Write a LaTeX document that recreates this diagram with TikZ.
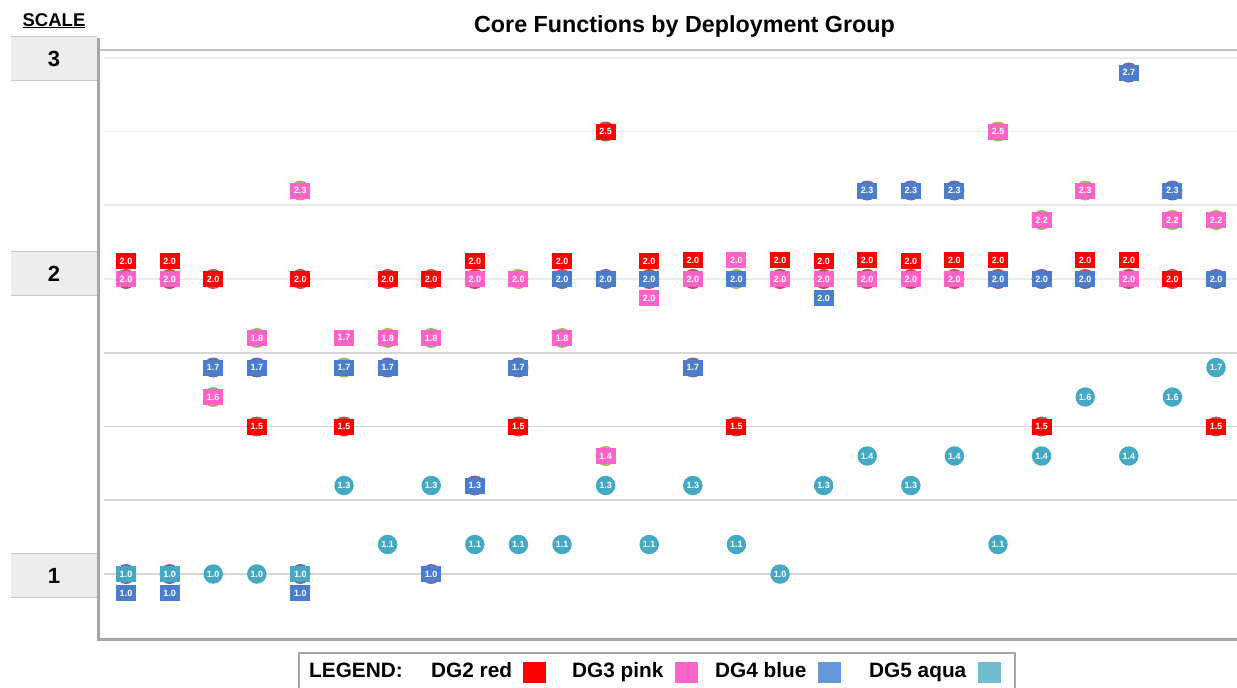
\documentclass[tikz,border=0pt]{standalone}
\usepackage{fontspec}
\setmainfont{Liberation Sans}
\definecolor{dgred}{HTML}{FF0000}
\definecolor{dgpink}{HTML}{FF63C8}
\definecolor{dgblue}{HTML}{4A7ECC}
\definecolor{dgaqua}{HTML}{46A9C3}
\definecolor{lgblue}{HTML}{6596D8}
\definecolor{lgaqua}{HTML}{70BDD0}
\definecolor{bkred}{HTML}{C0504D}
\definecolor{bkgreen}{HTML}{9BBB59}
\definecolor{bkpurple}{HTML}{8064A2}
\definecolor{gridlight}{HTML}{EBEBEB}
\definecolor{griddark}{HTML}{D6D6D6}
\definecolor{axisgray}{HTML}{A6A6A6}
\definecolor{boxfill}{HTML}{EDEDED}
\newcommand{\fsz}[1]{\fontsize{#1}{#1}\selectfont}
\begin{document}
\begin{tikzpicture}[x=1pt,y=-1pt,
  lbl/.style={inner sep=0pt, text=white, font=\bfseries\fsz{9}},
  sq/.style={lbl, rectangle, minimum width=20pt, minimum height=16pt},
  mk rd/.style={sq, fill=dgred},
  mk pk/.style={sq, fill=dgpink},
  mk bl/.style={sq, fill=dgblue},
  mk aqs/.style={sq, fill=dgaqua},
  mk aq/.style={lbl, circle, minimum size=19.5pt, fill=dgaqua},
  backdot/.style={circle, inner sep=0pt, minimum size=20pt},
  grid line/.style={draw=#1, line width=1.6pt},
  scalebox/.style={rectangle, fill=boxfill, minimum width=86pt, minimum height=43pt,
    inner sep=0pt, font=\bfseries\fsz{22}},
  boxedge/.style={draw=black!22, line width=0.8pt},
  legtext/.style={anchor=base west, inner sep=0pt, font=\bfseries\fsz{20.8}},
  legsq/.style={rectangle, inner sep=0pt, minimum width=23pt, minimum height=21pt}]
\useasboundingbox (0,0) rectangle (1237,688);

% headings
\node[anchor=base, inner sep=0pt, font=\bfseries\fsz{23.3}] (title) at (684.5,32)
  {Core Functions by Deployment Group};
\node[anchor=base, inner sep=0pt, font=\bfseries\fsz{18.5}] (scale) at (54,26)
  {\underline{SCALE}};

% horizontal grid, every quarter step (lighter above 2, darker below)
\foreach \g/\gc in {2.75/gridlight,2.5/gridlight,2.25/gridlight,2.0/gridlight,
                    1.75/griddark,1.5/griddark,1.25/griddark,1.0/griddark}
  \draw[grid line=\gc] (104,{279+(2-\g)*295}) -- (1237,{279+(2-\g)*295});

% plot frame
\draw[draw=black!25, line width=1.2pt] (100,50) -- (1237,50);
\draw[draw=axisgray, line width=3pt] (97,639.5) -- (1237,639.5);

% scale boxes
\foreach \n/\cy in {3/58.5,2/273.5,1/575.5}{
  \node[scalebox] (s\n) at (54,\cy) {\n};
  \draw[boxedge] (s\n.north west) -- (s\n.north east);
  \draw[boxedge] (s\n.south west) -- (s\n.south east);
}
\draw[draw=axisgray, line width=3pt] (98,38) -- (98,641);

% circles behind the value labels
\foreach \c/\v/\b [count=\i] in {
  1/2.0/bkred, 2/2.0/bkred, 3/2.0/bkred, 5/2.0/bkred, 7/2.0/bkred, 8/2.0/bkred,
  9/2.0/bkred, 10/2.0/bkgreen, 11/2.0/bkred, 12/2.0/bkpurple, 13/2.0/bkred,
  14/2.0/bkred, 15/2.0/bkgreen, 16/2.0/bkred, 17/2.0/bkred, 18/2.0/bkred,
  19/2.0/bkred, 20/2.0/bkred, 21/2.0/bkred, 22/2.0/bkpurple, 23/2.0/bkred,
  24/2.0/bkred, 25/2.0/bkred, 26/2.0/bkpurple,
  1/1.0/bkpurple, 2/1.0/bkpurple, 5/1.0/bkpurple,
  3/1.7/bkpurple, 3/1.6/bkgreen,
  4/1.8/bkgreen, 4/1.7/bkpurple, 4/1.5/bkred,
  5/2.3/bkgreen,
  6/1.7/bkgreen, 6/1.5/bkred,
  7/1.8/bkgreen, 7/1.7/bkpurple,
  8/1.8/bkgreen, 8/1.0/bkpurple,
  9/1.3/bkpurple,
  10/1.7/bkpurple, 10/1.5/bkred,
  11/1.8/bkgreen,
  12/2.5/bkred, 12/1.4/bkgreen,
  14/1.7/bkpurple,
  15/1.5/bkred,
  18/2.3/bkpurple, 19/2.3/bkpurple, 20/2.3/bkpurple,
  21/2.5/bkgreen,
  22/2.2/bkgreen, 22/1.5/bkred,
  23/2.3/bkgreen,
  24/2.7/bkpurple,
  25/2.3/bkpurple, 25/2.2/bkgreen,
  26/2.2/bkgreen, 26/1.5/bkred}
  \node[backdot, fill=\b] (k\i) at ({126+(\c-1)*43.6},{279+(2-\v)*295}) {};

% value labels: column / value / shift / group / text
\foreach \c/\v/\s/\f/\t [count=\i] in {
  1/2.0/-18/rd/2.0, 1/2.0/0/pk/2.0, 1/1.0/0/aqs/1.0, 1/1.0/19/bl/1.0,
  2/2.0/-18/rd/2.0, 2/2.0/0/pk/2.0, 2/1.0/0/aqs/1.0, 2/1.0/19/bl/1.0,
  3/2.0/0/rd/2.0, 3/1.7/0/bl/1.7, 3/1.6/0/pk/1.6, 3/1.0/0/aq/1.0,
  4/1.8/0/pk/1.8, 4/1.7/0/bl/1.7, 4/1.5/0/rd/1.5, 4/1.0/0/aq/1.0,
  5/2.3/0/pk/2.3, 5/2.0/0/rd/2.0, 5/1.0/0/aqs/1.0, 5/1.0/19/bl/1.0,
  6/1.7/-30/pk/1.7, 6/1.7/0/bl/1.7, 6/1.5/0/rd/1.5, 6/1.3/0/aq/1.3,
  7/2.0/0/rd/2.0, 7/1.8/0/pk/1.8, 7/1.7/0/bl/1.7, 7/1.1/0/aq/1.1,
  8/2.0/0/rd/2.0, 8/1.8/0/pk/1.8, 8/1.3/0/aq/1.3, 8/1.0/0/bl/1.0,
  9/2.0/-18/rd/2.0, 9/2.0/0/pk/2.0, 9/1.3/0/bl/1.3, 9/1.1/0/aq/1.1,
  10/2.0/0/pk/2.0, 10/1.7/0/bl/1.7, 10/1.5/0/rd/1.5, 10/1.1/0/aq/1.1,
  11/2.0/-18/rd/2.0, 11/2.0/0/bl/2.0, 11/1.8/0/pk/1.8, 11/1.1/0/aq/1.1,
  12/2.5/0/rd/2.5, 12/2.0/0/bl/2.0, 12/1.4/0/pk/1.4, 12/1.3/0/aq/1.3,
  13/2.0/-18/rd/2.0, 13/2.0/0/bl/2.0, 13/2.0/19/pk/2.0, 13/1.1/0/aq/1.1,
  14/2.0/-19/rd/2.0, 14/2.0/0/pk/2.0, 14/1.7/0/bl/1.7, 14/1.3/0/aq/1.3,
  15/2.0/-19/pk/2.0, 15/2.0/0/bl/2.0, 15/1.5/0/rd/1.5, 15/1.1/0/aq/1.1,
  16/2.0/-19/rd/2.0, 16/2.0/0/pk/2.0, 16/1.0/0/aq/1.0,
  17/2.0/-18/rd/2.0, 17/2.0/0/pk/2.0, 17/2.0/19/bl/2.0, 17/1.3/0/aq/1.3,
  18/2.3/0/bl/2.3, 18/2.0/-19/rd/2.0, 18/2.0/0/pk/2.0, 18/1.4/0/aq/1.4,
  19/2.3/0/bl/2.3, 19/2.0/-18/rd/2.0, 19/2.0/0/pk/2.0, 19/1.3/0/aq/1.3,
  20/2.3/0/bl/2.3, 20/2.0/-19/rd/2.0, 20/2.0/0/pk/2.0, 20/1.4/0/aq/1.4,
  21/2.5/0/pk/2.5, 21/2.0/-19/rd/2.0, 21/2.0/0/bl/2.0, 21/1.1/0/aq/1.1,
  22/2.2/0/pk/2.2, 22/2.0/0/bl/2.0, 22/1.5/0/rd/1.5, 22/1.4/0/aq/1.4,
  23/2.3/0/pk/2.3, 23/2.0/-19/rd/2.0, 23/2.0/0/bl/2.0, 23/1.6/0/aq/1.6,
  24/2.7/0/bl/2.7, 24/2.0/-19/rd/2.0, 24/2.0/0/pk/2.0, 24/1.4/0/aq/1.4,
  25/2.3/0/bl/2.3, 25/2.2/0/pk/2.2, 25/2.0/0/rd/2.0, 25/1.6/0/aq/1.6,
  26/2.2/0/pk/2.2, 26/2.0/0/bl/2.0, 26/1.7/0/aq/1.7, 26/1.5/0/rd/1.5}
  \node[mk \f] (m\i) at ({126+(\c-1)*43.6},{279+(2-\v)*295+\s}) {\t};

% legend
\draw[draw=axisgray, line width=2.5pt] (299,653) rectangle (1015,702);
\node[legtext] (lg) at (309,677) {LEGEND:};
\node[legtext] (l2) at (431,677) {DG2 red};
\node[legsq, fill=dgred] (q2) at (534.5,672.5) {};
\node[legtext] (l3) at (572,677) {DG3 pink};
\node[legsq, fill=dgpink] (q3) at (686.5,672.5) {};
\node[legtext] (l4) at (715,677) {DG4 blue};
\node[legsq, fill=lgblue] (q4) at (829.5,672.5) {};
\node[legtext] (l5) at (869,677) {DG5 aqua};
\node[legsq, fill=lgaqua] (q5) at (989,672.5) {};
\end{tikzpicture}
\end{document}
